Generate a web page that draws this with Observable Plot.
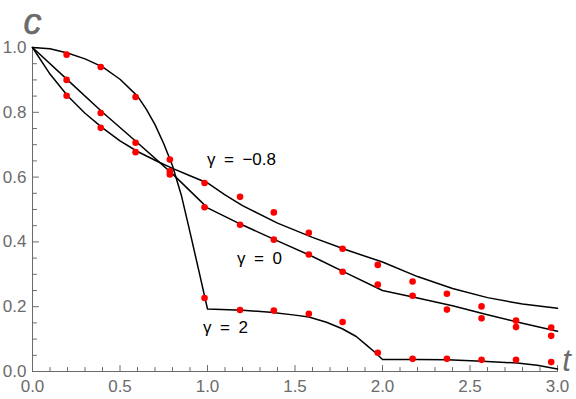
<!DOCTYPE html>
<html><head><meta charset="utf-8">
<script src="https://cdn.jsdelivr.net/npm/d3@7"></script>
<script src="https://cdn.jsdelivr.net/npm/@observablehq/plot@0.6"></script>
<style>
body{margin:0;background:#fff}
#chart{width:576px;height:399px}
#chart svg text{font-family:"Liberation Sans",Arial,sans-serif}
</style>
</head><body><div id="chart"></div>
<script>
// simulation points (red)
const tPoints = [0.195, 0.39, 0.589, 0.785, 0.983, 1.186, 1.379, 1.579, 1.772, 1.973, 2.172, 2.368, 2.566, 2.763, 2.964];
const cPointsG2 = [0.978, 0.940, 0.847, 0.654, 0.227, 0.190, 0.188, 0.178, 0.153, 0.058, 0.039, 0.039, 0.036, 0.036, 0.029];
const cPointsG0 = [0.900, 0.798, 0.706, 0.618, 0.507, 0.453, 0.407, 0.361, 0.308, 0.268, 0.234, 0.191, 0.164, 0.137, 0.110];
const cPointsGm = [0.851, 0.752, 0.677, 0.608, 0.582, 0.539, 0.491, 0.428, 0.379, 0.329, 0.278, 0.240, 0.201, 0.157, 0.136];

// theory curves (black)
const tLineG2 = [0, 0.1, 0.2, 0.3, 0.4, 0.5, 0.6, 0.65, 0.7, 0.75, 0.8, 0.85, 0.9, 0.95, 1.0, 1.2, 1.36, 1.5, 1.579, 1.68, 1.77, 1.85, 1.912, 1.96, 2.0, 2.2, 2.37, 2.57, 2.77, 2.884, 3.0];
const cLineG2 = [1, 0.996, 0.983, 0.965, 0.940, 0.902, 0.850, 0.810, 0.762, 0.703, 0.635, 0.545, 0.430, 0.312, 0.193, 0.189, 0.183, 0.174, 0.168, 0.152, 0.132, 0.108, 0.080, 0.058, 0.037, 0.037, 0.036, 0.032, 0.026, 0.019, 0.008];
const tLineG0 = [0, 0.2, 0.4, 0.6, 0.8, 1.0, 1.2, 1.4, 1.6, 1.8, 2.0, 2.2, 2.4, 2.6, 2.8, 3.0];
const cLineG0 = [1, 0.900, 0.800, 0.706, 0.610, 0.505, 0.452, 0.403, 0.355, 0.302, 0.250, 0.227, 0.203, 0.175, 0.149, 0.124];
const tLineGm = [0, 0.1, 0.2, 0.3, 0.4, 0.5, 0.6, 0.7, 0.8, 0.9, 1.0, 1.1, 1.2, 1.4, 1.6, 1.8, 2.0, 2.2, 2.4, 2.6, 2.8, 3.0];
const cLineGm = [1, 0.918, 0.851, 0.797, 0.752, 0.712, 0.679, 0.652, 0.627, 0.604, 0.582, 0.545, 0.512, 0.458, 0.414, 0.374, 0.338, 0.293, 0.256, 0.228, 0.208, 0.195];

// curve labels
const labelText = ["γ\u2002=\u2002−0.8", "γ\u2002=\u20020", "γ\u2002=\u20022"];
const labelT = [1.194, 1.297, 1.103];
const labelC = [0.654, 0.349, 0.136];

// ticks
const xMajor = [0, 0.5, 1.0, 1.5, 2.0, 2.5, 3.0];
const xMinor = [0.1, 0.2, 0.3, 0.4, 0.6, 0.7, 0.8, 0.9, 1.1, 1.2, 1.3, 1.4, 1.6, 1.7, 1.8, 1.9, 2.1, 2.2, 2.3, 2.4, 2.6, 2.7, 2.8, 2.9];
const yMajor = [0, 0.2, 0.4, 0.6, 0.8, 1.0];
const yMinor = [0.05, 0.1, 0.15, 0.25, 0.3, 0.35, 0.45, 0.5, 0.55, 0.65, 0.7, 0.75, 0.85, 0.9, 0.95];

const zipLine = (ts, cs, g) => ts.map((t, i) => ({t, c: cs[i], g}));
const lines = [
  ...zipLine(tLineG2, cLineG2, "2"),
  ...zipLine(tLineG0, cLineG0, "0"),
  ...zipLine(tLineGm, cLineGm, "-0.8")
];
const points = [
  ...zipLine(tPoints, cPointsG2, "2"),
  ...zipLine(tPoints, cPointsG0, "0"),
  ...zipLine(tPoints, cPointsGm, "-0.8")
];
const labels = labelText.map((s, i) => ({s, t: labelT[i], c: labelC[i]}));

const tickShape = {draw(ctx, l) { ctx.moveTo(0, 0); ctx.lineTo(0, -l); }};
const axisCol = "#6b6b6b";
const ff = "Liberation Sans";

const chart = Plot.plot({
  width: 576,
  height: 399,
  marginLeft: 32,
  marginRight: 19,
  marginTop: 47,
  marginBottom: 28,
  style: {fontFamily: "'Liberation Sans', Arial, sans-serif", background: "#fff"},
  x: {domain: [0, 3]},
  y: {domain: [0, 1]},
  marks: [
    // axis lines
    Plot.ruleY([0], {stroke: axisCol, strokeWidth: 1}),
    Plot.ruleX([0], {stroke: axisCol, strokeWidth: 1}),
    // ticks (inward)
    Plot.vector(xMajor, {x: d => d, y: 0, length: 6, rotate: 0, anchor: "start", shape: tickShape, stroke: axisCol, strokeWidth: 1}),
    Plot.vector(xMinor, {x: d => d, y: 0, length: 4, rotate: 0, anchor: "start", shape: tickShape, stroke: axisCol, strokeWidth: 1}),
    Plot.vector(yMajor, {x: 0, y: d => d, length: 6, rotate: 90, anchor: "start", shape: tickShape, stroke: axisCol, strokeWidth: 1}),
    Plot.vector(yMinor, {x: 0, y: d => d, length: 4, rotate: 90, anchor: "start", shape: tickShape, stroke: axisCol, strokeWidth: 1}),
    // tick labels
    Plot.axisX({ticks: xMajor, tickSize: 0, tickPadding: 8, tickFormat: d3.format(".1f"), fontSize: 17, fontFamily: ff, color: axisCol, label: null}),
    Plot.axisY({ticks: yMajor, tickSize: 0, tickPadding: 6, tickFormat: d3.format(".1f"), fontSize: 17, fontFamily: ff, color: axisCol, label: null}),
    // axis titles
    Plot.text(["c"], {x: 0, y: 1, dy: -25, text: d => d, fontSize: 36, fontFamily: ff, fontStyle: "italic", fill: axisCol, stroke: axisCol, strokeWidth: 0.6}),
    Plot.text(["t"], {x: 3, y: 0, dx: 9, dy: -10, text: d => d, fontSize: 31, fontFamily: ff, fontStyle: "italic", fill: axisCol}),
    // curves
    Plot.line(lines, {x: "t", y: "c", z: "g", stroke: "#000", strokeWidth: 1.5}),
    // points
    Plot.dot(points, {x: "t", y: "c", r: 3.3, fill: "#ff0000", stroke: null}),
    // labels
    Plot.text(labels, {x: "t", y: "c", text: "s", fontSize: 17, fontFamily: ff, fill: "#000"})
  ]
});
document.getElementById("chart").append(chart);
</script>
</body></html>
